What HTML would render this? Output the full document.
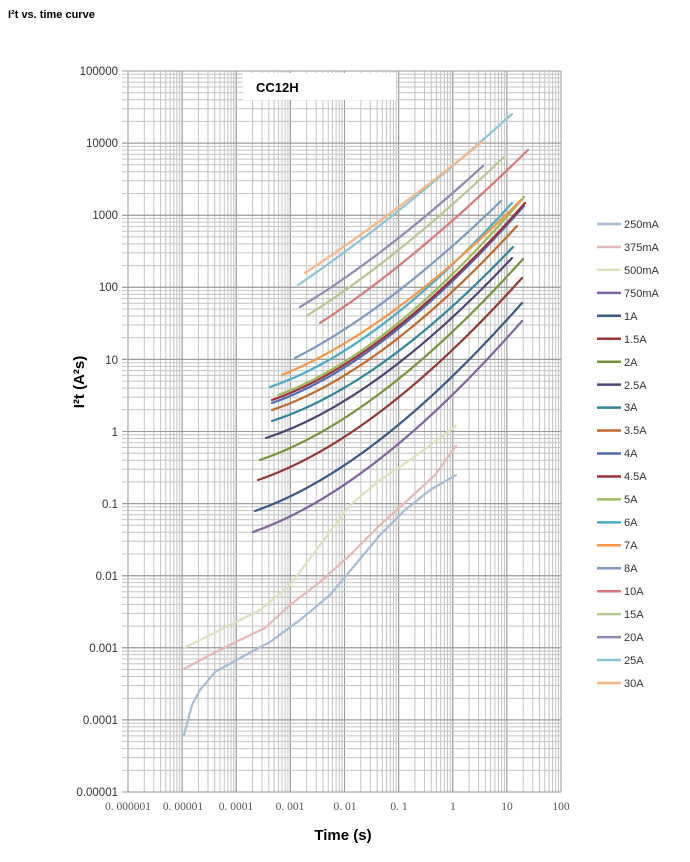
<!DOCTYPE html>
<html><head><meta charset="utf-8"><style>
body{margin:0;background:#fff;width:690px;height:857px;overflow:hidden;font-family:"Liberation Sans",sans-serif}
</style></head><body>
<svg id="s" width="690" height="857" xmlns="http://www.w3.org/2000/svg">
<text x="8" y="18" font-size="11" font-weight="bold" font-family="Liberation Sans, sans-serif">I²t vs. time curve</text>
<g id="grid"></g>
<rect x="243" y="73" width="153" height="27" fill="#fff"/>
<text x="256" y="92" font-size="13" font-weight="bold" font-family="Liberation Sans, sans-serif">CC12H</text>
<g font-size="11.5" fill="#333" text-anchor="end" font-family="Liberation Sans, sans-serif">
<text x="118" y="75">100000</text><text x="118" y="147">10000</text><text x="118" y="219">1000</text>
<text x="118" y="291">100</text><text x="118" y="364">10</text><text x="118" y="436">1</text>
<text x="118" y="508">0.1</text><text x="118" y="580">0.01</text><text x="118" y="652">0.001</text>
<text x="118" y="724">0.0001</text><text x="118" y="796">0.00001</text>
</g>
<g font-size="11.5" fill="#555" text-anchor="middle" font-family="Liberation Serif, serif">
<text x="128" y="810">0. 000001</text><text x="183" y="810">0. 00001</text><text x="236" y="810">0. 0001</text>
<text x="290" y="810">0. 001</text><text x="345" y="810">0. 01</text><text x="399" y="810">0. 1</text>
<text x="453" y="810">1</text><text x="507" y="810">10</text><text x="561" y="810">100</text>
</g>
<text x="343" y="840" font-size="15" font-weight="bold" text-anchor="middle" font-family="Liberation Sans, sans-serif">Time (s)</text>
<text transform="translate(84,382) rotate(-90)" font-size="15" font-weight="bold" text-anchor="middle" font-family="Liberation Sans, sans-serif">I²t (A²s)</text>
<g id="curves" fill="none" stroke-width="2.2" stroke-linecap="round"></g>
<g id="leg" font-size="11" fill="#333" font-family="Liberation Sans, sans-serif">
<text x="624" y="228">250mA</text><text x="624" y="251">375mA</text><text x="624" y="274">500mA</text>
<text x="624" y="297">750mA</text><text x="624" y="320">1A</text><text x="624" y="343">1.5A</text>
<text x="624" y="366">2A</text><text x="624" y="389">2.5A</text><text x="624" y="411">3A</text>
<text x="624" y="434">3.5A</text><text x="624" y="457">4A</text><text x="624" y="480">4.5A</text>
<text x="624" y="503">5A</text><text x="624" y="526">6A</text><text x="624" y="549">7A</text>
<text x="624" y="572">8A</text><text x="624" y="595">10A</text><text x="624" y="618">15A</text>
<text x="624" y="641">20A</text><text x="624" y="664">25A</text><text x="624" y="687">30A</text>
</g>
</svg>
<script>
var NS="http://www.w3.org/2000/svg";
function el(p,t,a){var e=document.createElementNS(NS,t);for(var k in a)e.setAttribute(k,a[k]);p.appendChild(e);return e;}
var g=document.getElementById('grid');
var X0=128,DX=54.125,Y0=71,DY=72.1;
for(var d=0;d<8;d++)for(var m=1;m<=10;m++){var x=X0+DX*(d+Math.log10(m));el(g,'line',{x1:x,x2:x,y1:71,y2:792,stroke:m==1||m==10?'#9a9a9a':'#c4c4c4','stroke-width':1});}
for(var d=0;d<10;d++)for(var m=1;m<=10;m++){var y=Y0+DY*(10-d-Math.log10(m));el(g,'line',{x1:122,x2:561,y1:y,y2:y,stroke:m==1||m==10?'#9a9a9a':'#c4c4c4','stroke-width':1});}
var C=document.getElementById('curves');
function poly(pts,c){var d='M'+pts[0][0]+' '+pts[0][1];for(var i=1;i<pts.length;i++){d+=' L'+pts[i][0]+' '+pts[i][1];}el(C,'path',{d:d,stroke:c,'stroke-linejoin':'round'});}
poly([[184,735],[192,705],[200,690],[215,672],[240,658],[270,642],[300,620],[330,595],[355,565],[380,535],[405,510],[430,490],[456,475]],'#a8bcd8');
poly([[184,669],[210,655],[240,640],[265,628],[290,605],[320,582],[350,555],[380,525],[410,498],[435,475],[456,446]],'#e6b8b7');
poly([[184,648],[220,630],[260,610],[290,585],[320,545],[350,505],[380,480],[410,460],[456,426]],'#d8e4bc');
var cs=[
[253,532,522,321,'#8064a2',.2],[255,511,522,303,'#3b5a86',.2],[258,480,522,278,'#953735',.2],
[260,460,523,259,'#77933c',.2],[266,438,512,258,'#4d4475',.2],[272,421,513,247,'#31859c',.2],
[272,410,517,226,'#c0692a',.2],[272,403,524,206,'#4f6bb5',.2],[272,400,525,203,'#a0303a',.2],
[278,395,524,197,'#9bbb59',.2],[270,387,512,203,'#4bacc6',.2],[282,375,521,200,'#f79646',.25],
[295,358,501,201,'#7f9ac0',.3],[320,323,528,150,'#d9797a',.35],[308,315,504,157,'#b5c98f',.35],
[300,307,483,166,'#9289b4',.35],[298,285,512,114,'#8cc6d4',.38],[305,273,482,142,'#fab582',.4]];
cs.forEach(function(c){var dx=c[2]-c[0],dy=c[3]-c[1];var cx=c[0]+.45*dx,cy=c[1]+c[5]*dy;
el(C,'path',{d:'M'+c[0]+' '+c[1]+' Q'+cx+' '+cy+' '+c[2]+' '+c[3],stroke:c[4]});});
var cols=['#a8bcd8','#e6b8b7','#d8e4bc','#8064a2','#3b5a86','#953735','#77933c','#4d4475','#31859c','#c0692a','#4f6bb5','#a0303a','#9bbb59','#4bacc6','#f79646','#7f9ac0','#d9797a','#b5c98f','#9289b4','#8cc6d4','#fab582'];
var L=document.getElementById('leg');
cols.forEach(function(c,i){var y=224+i*22.95;el(L,'line',{x1:597,x2:621,y1:y,y2:y,stroke:c,'stroke-width':2.5});});
</script>
</body></html>
